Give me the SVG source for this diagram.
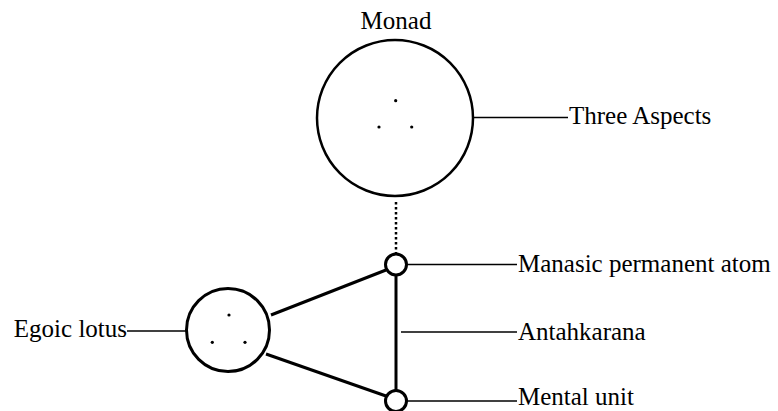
<svg xmlns="http://www.w3.org/2000/svg" width="778" height="411" viewBox="0 0 778 411">
<style>
.lbl{font-family:"Liberation Serif","Times New Roman",serif;font-size:25px;fill:#000}
.ring{fill:#fff;stroke:#000}
.dot{fill:#000}
.thin{stroke:#000;stroke-width:1.5;fill:none}
.thick{stroke:#000;stroke-width:3;fill:none}
</style>
<rect width="778" height="411" fill="#fff"/>
<g id="connectors">
<line class="thin" x1="474" y1="117.5" x2="568" y2="117.5"/>
<line x1="396" y1="202" x2="396" y2="254" stroke="#000" stroke-width="2.5" stroke-dasharray="2.5 2.5"/>
<line class="thick" x1="271" y1="315" x2="386" y2="270"/>
<line class="thick" x1="266" y1="354" x2="386" y2="396"/>
<line class="thick" x1="396" y1="275" x2="396" y2="391"/>
<line class="thin" x1="407" y1="264.5" x2="517" y2="264.5"/>
<line class="thin" x1="401" y1="332" x2="517" y2="332"/>
<line class="thin" x1="407" y1="401" x2="517" y2="401"/>
<line class="thin" x1="127" y1="331" x2="186" y2="331"/>
</g>
<g id="monad">
<circle class="ring" cx="395" cy="118" r="78" stroke-width="2.5"/>
<circle class="dot" cx="395.7" cy="100.7" r="1.6"/>
<circle class="dot" cx="379" cy="127" r="1.6"/>
<circle class="dot" cx="411.7" cy="127" r="1.6"/>
<text class="lbl" x="396" y="29" text-anchor="middle" font-size="24">Monad</text>
</g>
<g id="three-aspects">
<text class="lbl" x="569" y="124">Three Aspects</text>
</g>
<g id="egoic-lotus">
<circle class="ring" cx="228" cy="330" r="41.5" stroke-width="3"/>
<circle class="dot" cx="229" cy="315" r="1.6"/>
<circle class="dot" cx="212.3" cy="342.3" r="1.6"/>
<circle class="dot" cx="245" cy="342.3" r="1.6"/>
<text class="lbl" x="127" y="337" text-anchor="end">Egoic lotus</text>
</g>
<g id="manasic-permanent-atom">
<circle class="ring" cx="396" cy="264.5" r="10.5" stroke-width="3"/>
<text class="lbl" x="518" y="272">Manasic permanent atom</text>
</g>
<g id="antahkarana">
<text class="lbl" x="518" y="340">Antahkarana</text>
</g>
<g id="mental-unit">
<circle class="ring" cx="396" cy="401" r="10.5" stroke-width="3"/>
<text class="lbl" x="518" y="405">Mental unit</text>
</g>
</svg>
